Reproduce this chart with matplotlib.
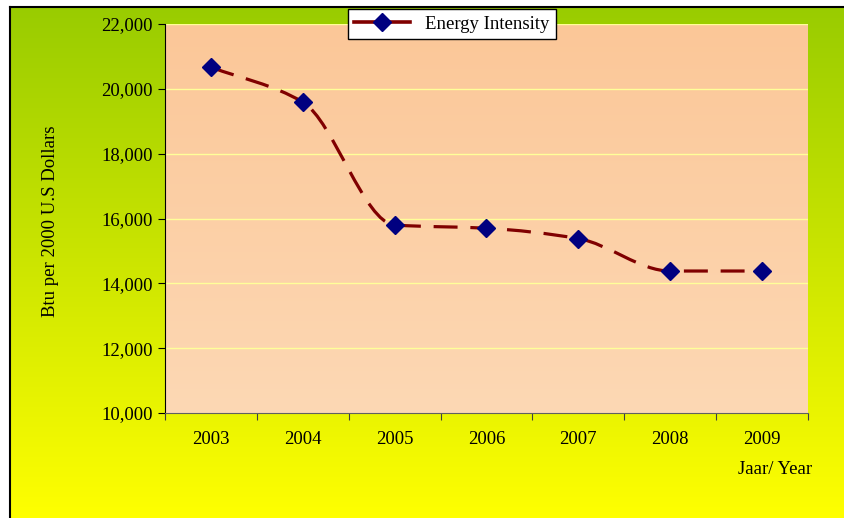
import numpy as np
import matplotlib.pyplot as plt
from matplotlib.path import Path
from matplotlib.patches import PathPatch
from matplotlib.lines import Line2D

# data
years = ['2003', '2004', '2005', '2006', '2007', '2008', '2009']
intensity = [20670, 19590, 15800, 15700, 15380, 14380, 14380]

plt.rcParams['font.family'] = ['Liberation Serif', 'DejaVu Serif']
FS = 13.5

fig = plt.figure(figsize=(8.44, 5.18), dpi=100)
fig.patch.set_facecolor('white')

# chart background gradient (green -> yellow), white margin at left/top
W, H = 844, 518
bx0, by0 = 10 / W, 7 / H
bg = fig.add_axes([bx0, 0, 1 - bx0, 1 - by0], zorder=-10)
grad = np.linspace(0, 1, 256).reshape(-1, 1)
top_c = np.array([153, 204, 0]) / 255
bot_c = np.array([255, 255, 0]) / 255
img = top_c[None, None, :] * (1 - grad[:, :, None]) + bot_c[None, None, :] * grad[:, :, None]
bg.imshow(img, aspect='auto', extent=[0, 1, 0, 1])
bg.set_xlim(0, 1)
bg.set_ylim(0, 1)
bg.set_xticks([])
bg.set_yticks([])
for s in ['right', 'bottom']:
    bg.spines[s].set_visible(False)
for s in ['left', 'top']:
    bg.spines[s].set_color('black')
    bg.spines[s].set_linewidth(1.5)

ax = fig.add_axes([165 / W, 1 - 413 / H, (808 - 165) / W, (413 - 24) / H])
ax.patch.set_alpha(0)

n = len(years)
x = np.arange(n)
ax.set_xlim(-0.5, n - 0.5)
ax.set_ylim(10000, 22000)

# plot area gradient
p_top = np.array([251, 199, 152]) / 255
p_bot = np.array([253, 216, 180]) / 255
pimg = p_top[None, None, :] * (1 - grad[:, :, None]) + p_bot[None, None, :] * grad[:, :, None]
ax.imshow(pimg, aspect='auto', extent=[-0.5, n - 0.5, 10000, 22000], zorder=0)

ax.set_yticks(np.arange(10000, 22001, 2000))
ax.set_yticklabels([f'{v:,}' for v in range(10000, 22001, 2000)])
for v in range(12000, 22001, 2000):
    ax.axhline(v, color='#FFFF99', linewidth=1, zorder=1)

ax.set_xticks(np.arange(-0.5, n, 1))
ax.set_xticklabels([])
ax.set_xticks(x, minor=True)
ax.set_xticklabels(years, minor=True)
ax.tick_params(axis='x', which='minor', length=0, pad=13, labelsize=FS)
ax.tick_params(axis='x', which='major', direction='out', length=5, color='#404040')
ax.tick_params(axis='y', direction='out', length=5, labelsize=FS, pad=4)

for s in ['top', 'right']:
    ax.spines[s].set_visible(False)
ax.spines['left'].set_color('black')
ax.spines['bottom'].set_color('#606060')

# smoothed line through the points (monotone tangents, no overshoot)
pts = np.column_stack([x, intensity]).astype(float)
d = np.diff(pts[:, 1])
m = np.zeros(n)
m[0], m[-1] = d[0], d[-1]
for i in range(1, n - 1):
    if d[i - 1] * d[i] > 0:
        m[i] = 2 / (1 / d[i - 1] + 1 / d[i])
verts = [tuple(pts[0])]
codes = [Path.MOVETO]
for i in range(n - 1):
    c1 = (pts[i, 0] + 1 / 3, pts[i, 1] + m[i] / 3)
    c2 = (pts[i + 1, 0] - 1 / 3, pts[i + 1, 1] - m[i + 1] / 3)
    verts += [c1, c2, tuple(pts[i + 1])]
    codes += [Path.CURVE4] * 3
curve = PathPatch(Path(verts, codes), fill=False, edgecolor='#800000', linewidth=2.3,
                  linestyle=(0, (7.5, 4)), zorder=3, capstyle='butt')
ax.add_patch(curve)
ax.plot(x, intensity, linestyle='none', marker='D', markersize=9.5,
        color='#000080', zorder=4)

ax.set_ylabel('Btu per 2000 U.S Dollars', fontsize=FS)
ax.yaxis.set_label_coords(59 / W, 1 - 221 / H, transform=fig.transFigure)
fig.text(775 / W, 1 - 470 / H, 'Jaar/ Year', fontsize=FS, ha='center', va='center')

handle = Line2D([], [], color='#800000', linewidth=2.6, marker='D', markersize=9.5,
                markerfacecolor='#000080', markeredgecolor='#000080')
leg = fig.legend([handle], ['Energy Intensity'], loc='center',
                 bbox_to_anchor=(452 / W, 1 - 24 / H), fontsize=FS,
                 frameon=True, fancybox=False, edgecolor='black', framealpha=1,
                 handlelength=3.0, borderpad=0.35, handletextpad=0.8)
leg.get_frame().set_linewidth(1.0)

fig.savefig('out.png', dpi=100)
